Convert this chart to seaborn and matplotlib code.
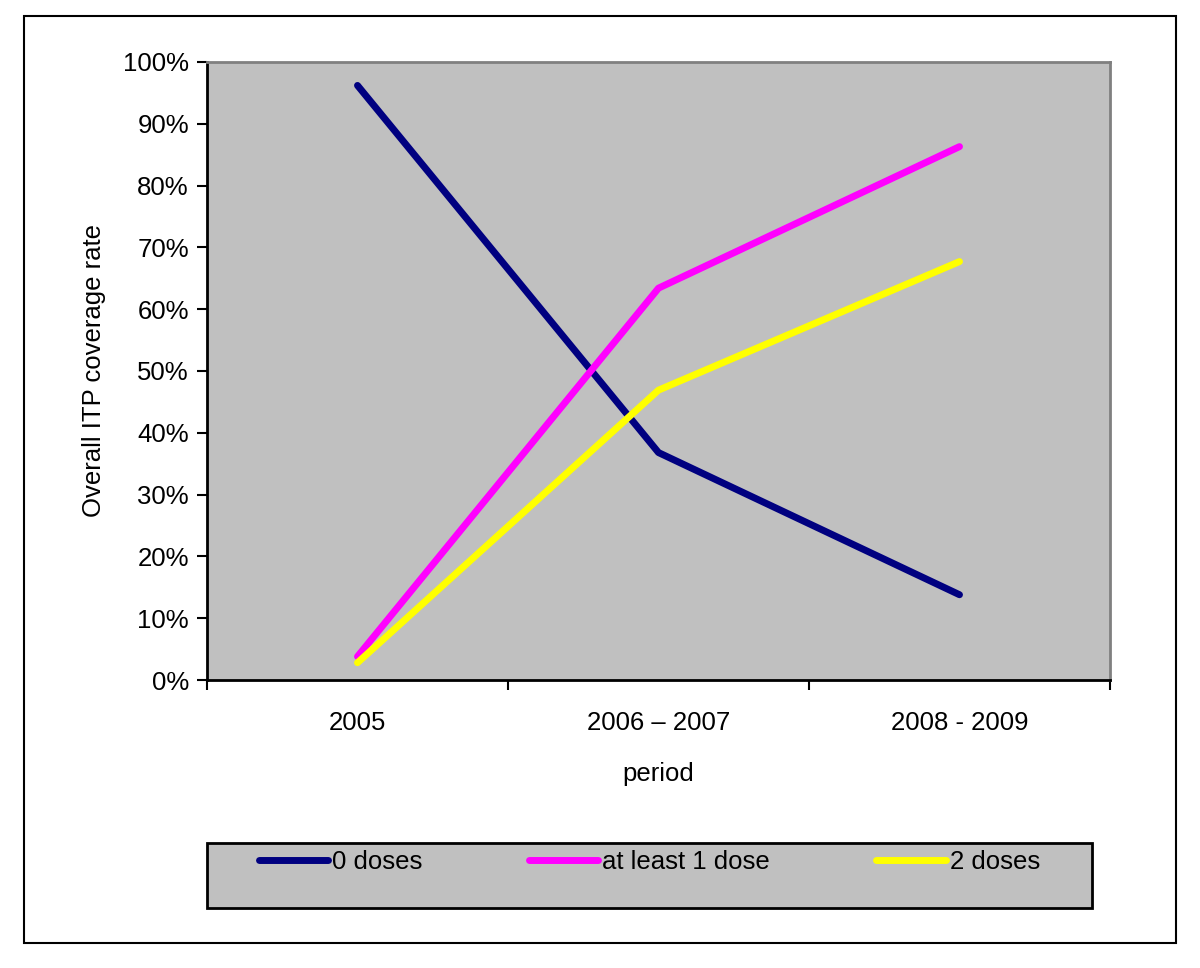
import pandas as pd
import matplotlib.pyplot as plt
import seaborn as sns
from matplotlib.patches import Rectangle
from matplotlib.ticker import PercentFormatter

# values (percent)
periods = ['2005', '2006 \u2013 2007', '2008 - 2009']
zero_doses = [96.2, 36.8, 13.8]
at_least_one = [3.8, 63.4, 86.3]
two_doses = [2.8, 46.9, 67.7]
series_names = ['0 doses', 'at least 1 dose', '2 doses']
colors = ['#000080', '#ff00ff', '#ffff00']

rows = []
for name, vals in zip(series_names, [zero_doses, at_least_one, two_doses]):
    for i, v in enumerate(vals):
        rows.append({'pos': i, 'period': periods[i], 'series': name, 'rate': v})
df = pd.DataFrame(rows)

sns.set_style('white')
plt.rcParams['font.family'] = ['Liberation Sans', 'DejaVu Sans']
plt.rcParams['text.color'] = 'black'
plt.rcParams['axes.labelcolor'] = 'black'
plt.rcParams['xtick.color'] = 'black'
plt.rcParams['ytick.color'] = 'black'

fs = 18.5
lw = 5

fig = plt.figure(figsize=(12, 9.68), dpi=100)
ax = fig.add_axes([0.1725, 0.2975, 0.7525, 0.6385])
ax.set_facecolor('#c0c0c0')

sns.lineplot(data=df, x='pos', y='rate', hue='series', palette=colors,
             hue_order=series_names, linewidth=lw, ax=ax, legend=False,
             solid_capstyle='round', solid_joinstyle='round')

ax.set_xlim(-0.5, 2.5)
ax.set_ylim(0, 100)
ax.yaxis.set_major_formatter(PercentFormatter(decimals=0))
ax.set_yticks(range(0, 101, 10))
ax.tick_params(axis='y', labelsize=fs, length=7, width=1.5, direction='out', left=True, pad=6)

# category boundaries as ticks, labels in the middle
ax.set_xticks([-0.5, 0.5, 1.5, 2.5])
ax.set_xticklabels([])
ax.set_xticks([0, 1, 2], minor=True)
ax.set_xticklabels(periods, minor=True)
ax.tick_params(axis='x', which='major', length=7, width=1.5, direction='out', bottom=True)
ax.tick_params(axis='x', which='minor', length=0, labelsize=fs, pad=22)

for side in ['left', 'bottom']:
    ax.spines[side].set_color('black')
    ax.spines[side].set_linewidth(2)
for side in ['top', 'right']:
    ax.spines[side].set_color('#808080')
    ax.spines[side].set_linewidth(2)

ax.set_xlabel('period', fontsize=fs, labelpad=20)
ax.set_ylabel('Overall ITP coverage rate', fontsize=fs, labelpad=12)

# legend box drawn separately, entries sit in its upper part
fig.patches.append(Rectangle((0.1725, 1 - 908 / 968), 0.7375, 65 / 968,
                             transform=fig.transFigure, facecolor='#c0c0c0',
                             edgecolor='black', linewidth=2))
handles = [plt.Line2D([], [], color=c, linewidth=lw, solid_capstyle='round') for c in colors]
leg = fig.legend(handles, series_names, loc='center', ncol=3,
                 bbox_to_anchor=(0.541, 1 - 862 / 968), fontsize=fs,
                 frameon=False, handlelength=2.7, handletextpad=0.15,
                 columnspacing=4.15, borderaxespad=0, borderpad=0)

# outer chart border
fig.patches.append(Rectangle((0.02, 0.026), 0.96, 0.957, transform=fig.transFigure,
                             fill=False, edgecolor='black', linewidth=1.5))

fig.savefig('out.png', dpi=100, facecolor='white')
